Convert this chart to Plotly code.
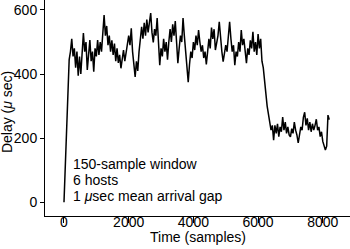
import plotly.graph_objects as go

# Sample index (every 40 samples) and windowed delay values (usec)
step = 40
delay = [
    0, 120, 240, 360, 445, 470, 510, 455, 480, 420,
    470, 395, 455, 400, 490, 528, 470, 500, 413, 470,
    506, 440, 470, 407, 480, 455, 506, 460, 500, 470,
    550, 584, 520, 550, 490, 520, 470, 505, 460, 495,
    440, 480, 435, 460, 418, 450, 475, 440, 470, 500,
    520, 490, 543, 470, 430, 391, 440, 410, 470, 500,
    547, 510, 560, 520, 570, 530, 565, 590, 530, 499,
    540, 520, 575, 490, 428, 480, 455, 510, 470, 500,
    445, 500, 540, 500, 555, 520, 565, 500, 434, 480,
    520, 500, 575, 520, 470, 420, 375, 430, 470, 450,
    500, 475, 520, 490, 537, 500, 470, 490, 450, 470,
    430, 470, 510, 480, 545, 510, 540, 475, 500, 520,
    563, 510, 470, 439, 470, 490, 470, 520, 563, 510,
    470, 490, 428, 470, 455, 500, 470, 537, 490, 510,
    460, 434, 480, 460, 505, 480, 532, 470, 500, 460,
    525, 480, 510, 440, 420, 370, 340, 300, 275, 250,
    225, 240, 194, 240, 215, 245, 205, 235, 220, 266,
    225, 250, 215, 235, 210, 204, 230, 215, 250, 225,
    210, 185, 220, 235, 225, 265, 281, 240, 262, 225,
    250, 220, 245, 225, 240, 259, 225, 235, 205, 220,
    190, 175, 163, 175, 272, 258,
]
samples = [i * step for i in range(len(delay))]

x_ticks = [0, 2000, 4000, 6000, 8000]
y_ticks = [0, 200, 400, 600]
notes = ["150-sample window", "6 hosts", "1 <i>\u03bc</i>sec mean arrival gap"]

FONT = "Liberation Sans, Arial, Helvetica, sans-serif"
X_RANGE = [-587, 8841]

fig = go.Figure()
fig.add_trace(go.Scatter(x=samples, y=delay, mode="lines",
                         line=dict(color="black", width=1.5),
                         showlegend=False, hoverinfo="skip"))
# carrier for the label-only overlay axis (invisible)
fig.add_trace(go.Scatter(x=samples[:1], y=delay[:1], mode="lines",
                         xaxis="x2", opacity=0, showlegend=False,
                         hoverinfo="skip"))

fig.update_layout(
    width=350, height=249,
    margin=dict(l=45, r=0, t=0, b=33),
    paper_bgcolor="white", plot_bgcolor="white",
    font=dict(family=FONT, size=14, color="black"),
    xaxis=dict(range=X_RANGE, tickvals=x_ticks, ticks="outside",
               ticklen=6, tickwidth=1, tickcolor="black",
               showticklabels=False,
               showline=True, linecolor="black", linewidth=1,
               showgrid=False, zeroline=False),
    xaxis2=dict(range=X_RANGE, tickvals=x_ticks, ticks="",
                overlaying="x", side="bottom", anchor="free",
                position=0.02,
                showline=False, showgrid=False, zeroline=False),
    yaxis=dict(range=[-42.7, 631], tickvals=y_ticks, ticks="outside",
               ticklen=4, tickwidth=1, tickcolor="black",
               showline=True, linecolor="black", linewidth=1,
               showgrid=False, zeroline=False),
)

note_y = [119, 69, 19]
for txt, yv in zip(notes, note_y):
    fig.add_annotation(x=216, y=yv, xref="x", yref="y", text=txt,
                       showarrow=False, xanchor="left", yanchor="middle",
                       font=dict(size=14))

fig.add_annotation(x=0.5, y=0, xref="paper", yref="paper",
                   text="Time (samples)", showarrow=False,
                   xanchor="center", yanchor="middle", yshift=-21,
                   font=dict(size=14))
fig.add_annotation(x=0, y=0.481, xref="paper", yref="paper",
                   text="Delay (<i>\u03bc</i> sec)", showarrow=False,
                   textangle=-90, xanchor="center", yanchor="middle",
                   xshift=-38, font=dict(size=14))

fig.write_html("out.html")
